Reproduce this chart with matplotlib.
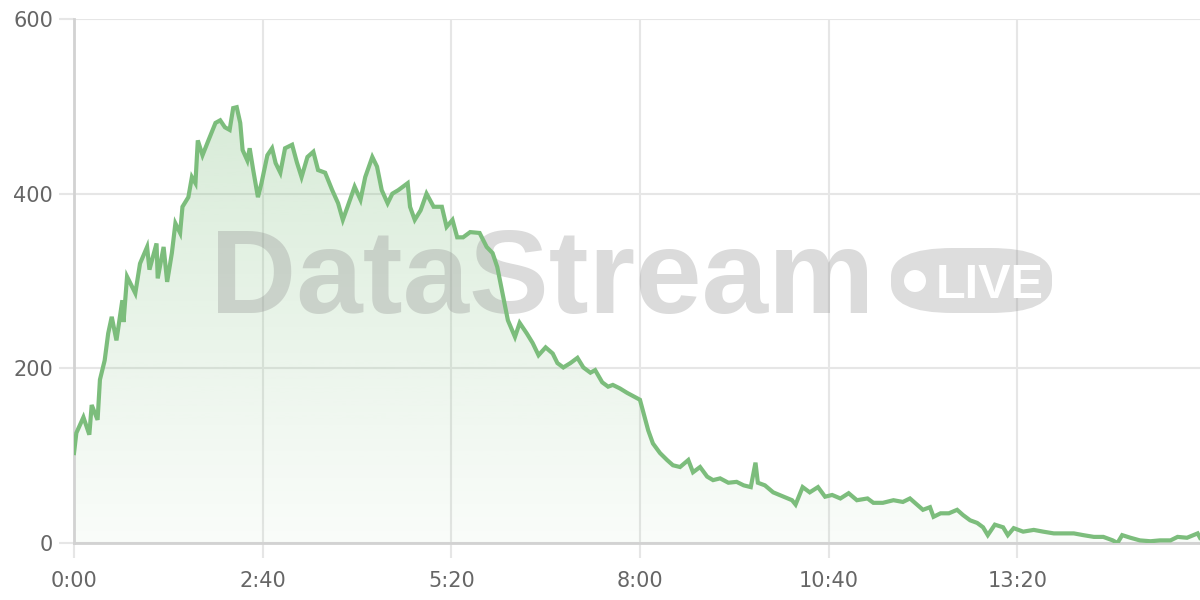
import numpy as np
import matplotlib
matplotlib.use("Agg")
import matplotlib.pyplot as plt
from matplotlib.patches import FancyBboxPatch, Ellipse
from matplotlib.ticker import FuncFormatter

# elapsed time (seconds) and live value
seconds = [0, 2, 8, 13, 15, 20, 22, 26, 29, 32, 36, 41, 42, 45, 52, 56, 62, 64, 70, 71,
           76, 79, 83, 86, 90, 92, 97, 100, 103, 105, 109, 114, 120, 124, 128, 132, 135, 138, 141, 143,
           147, 149, 152, 156, 159, 164, 168, 171, 175, 179, 185, 189, 193, 198, 203, 207, 213, 219, 224, 228,
           232, 238, 243, 247, 253, 257, 261, 266, 270, 275, 283, 285, 289, 294, 299, 305, 312, 316, 321, 325,
           330, 336, 344, 350, 355, 359, 364, 368, 374, 378, 384, 389, 394, 400, 406, 410, 415, 421, 427, 432,
           438, 442, 448, 453, 457, 463, 469, 476, 480, 483, 487, 491, 497, 503, 508, 514, 521, 525, 531, 537,
           542, 548, 555, 562, 568, 574, 578, 580, 586, 593, 602, 609, 612, 618, 624, 631, 637, 643, 650, 657,
           664, 673, 678, 686, 695, 703, 709, 715, 720, 726, 729, 735, 742, 749, 754, 760, 766, 771, 775, 781,
           788, 792, 797, 805, 814, 822, 831, 839, 848, 856, 865, 873, 881, 885, 889, 896, 904, 913, 921, 930,
           936, 944, 953, 955]
values = [103, 126, 144, 124, 158, 141, 187, 209, 240, 259, 232, 278, 253, 305, 286, 320, 339, 313, 343, 303,
          339, 299, 332, 366, 355, 385, 396, 419, 412, 461, 444, 461, 481, 484, 476, 473, 498, 499, 481, 450,
          438, 452, 427, 396, 412, 444, 452, 435, 424, 452, 456, 436, 419, 442, 448, 427, 424, 404, 389, 370,
          385, 408, 393, 419, 442, 431, 404, 389, 400, 404, 412, 385, 370, 381, 400, 385, 385, 362, 370, 350,
          350, 356, 355, 339, 332, 316, 282, 255, 236, 252, 240, 229, 215, 224, 217, 206, 201, 206, 212, 201,
          195, 198, 184, 179, 181, 177, 172, 167, 164, 149, 129, 114, 103, 95, 89, 87, 95, 81, 87, 76,
          72, 74, 69, 70, 66, 64, 92, 69, 66, 58, 53, 49, 44, 64, 58, 64, 53, 55, 51, 57,
          49, 51, 46, 46, 49, 47, 51, 44, 38, 41, 30, 34, 34, 38, 32, 26, 23, 18, 9, 21,
          18, 9, 17, 13, 15, 13, 11, 11, 11, 9, 7, 7, 3, 0, 9, 6, 3, 2, 3, 3,
          7, 6, 11, 6]

y_ticks = [0, 200, 400, 600]
x_ticks = [0, 160, 320, 480, 640, 800]

line_color = "#7cbd7c"
grid_color = "#e6e6e6"
axis_color = "#d2d2d2"
label_color = "#666666"

fig = plt.figure(figsize=(12, 6), dpi=100)
ax = fig.add_axes([74 / 1200, 57 / 600, 1126 / 1200, 524 / 600])

x = np.array(seconds, dtype=float)
y = np.array(values, dtype=float)
xmax = 955

ax.set_xlim(0, xmax)
ax.set_ylim(0, 600)

# gradient fill under the line
grad = np.linspace(0.04, 0.30, 256).reshape(-1, 1)
rgba = np.zeros((256, 1, 4))
rgba[..., 0] = 0x7c / 255
rgba[..., 1] = 0xbd / 255
rgba[..., 2] = 0x7c / 255
rgba[..., 3] = grad
fill = ax.fill_between(x, y, 0, color="none", lw=0)
img = ax.imshow(rgba, extent=[0, xmax, 0, 500], origin="lower", aspect="auto", zorder=1)
img.set_clip_path(fill.get_paths()[0], transform=ax.transData)

# watermark
ax.text(0.121, (543 - 313) / 524, "DataStream", transform=ax.transAxes, fontsize=86, fontweight="bold",
        family="Liberation Sans", color="#8f8f8f", alpha=0.32, ha="left", va="baseline", zorder=2)
badge = FancyBboxPatch((817 / 1126, (543 - 313) / 524), 161 / 1126, 65 / 524,
                       boxstyle="round,pad=0,rounding_size=0.055", transform=ax.transAxes,
                       facecolor="#8f8f8f", alpha=0.3, edgecolor="none", zorder=2)
ax.add_patch(badge)
ax.add_patch(Ellipse((841 / 1126, (543 - 281) / 524), 22 / 1126, 22 / 524, transform=ax.transAxes,
                     facecolor="white", edgecolor="none", zorder=3))
ax.text(862 / 1126, (543 - 298) / 524, "LIVE", transform=ax.transAxes, fontsize=35,
        fontweight="bold", family="Liberation Sans", color="white", ha="left", va="baseline", zorder=3)

ax.plot(x, y, color=line_color, lw=3, zorder=4, solid_joinstyle="miter")

ax.set_yticks(y_ticks)
ax.set_xticks(x_ticks)
ax.xaxis.set_major_formatter(FuncFormatter(lambda v, p: f"{int(v) // 60}:{int(v) % 60:02d}"))
ax.grid(True, color=grid_color, lw=1.5, zorder=0)
ax.set_axisbelow(True)
for side in ["top", "right"]:
    ax.spines[side].set_visible(False)
for side in ["left", "bottom"]:
    ax.spines[side].set_color(axis_color)
    ax.spines[side].set_linewidth(2)
ax.tick_params(axis="both", colors=grid_color, length=11, width=1.5, labelcolor=label_color, labelsize=15)
ax.tick_params(axis="y", pad=4)
ax.tick_params(axis="x", pad=9)

fig.savefig("out.png", dpi=100)
